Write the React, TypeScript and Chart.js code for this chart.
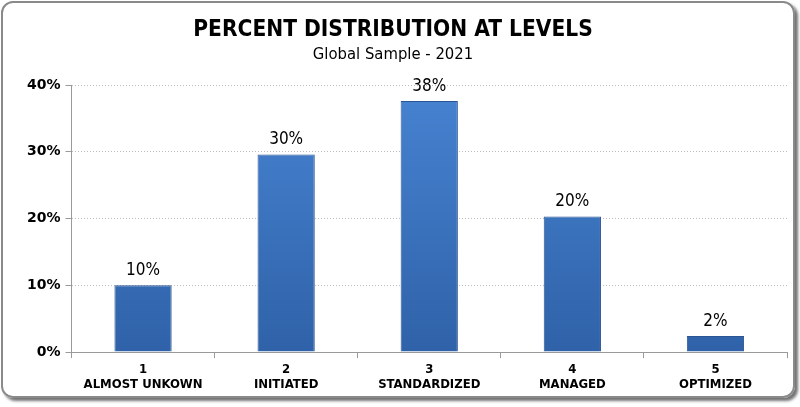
import React, { useEffect, useRef } from "react";
import { Chart, registerables } from "chart.js";

Chart.register(...registerables);

const titleText = "PERCENT DISTRIBUTION AT LEVELS";
const subtitleText = "Global Sample - 2021";
const levelNumbers = ["1", "2", "3", "4", "5"];
const levelNames = ["ALMOST UNKOWN", "INITIATED", "STANDARDIZED", "MANAGED", "OPTIMIZED"];
const percentValues = [10.0, 29.6, 37.6, 20.3, 2.4];
const percentLabels = ["10%", "30%", "38%", "20%", "2%"];
const yTicks = [0, 10, 20, 30, 40];

const narrow = "'Liberation Sans Narrow', 'DejaVu Sans Condensed', 'Arial Narrow', sans-serif";
const verdanaLike = "'DejaVu Sans', Verdana, sans-serif";

const valueLabelPlugin = {
  id: "valueLabels",
  afterDatasetsDraw(chart: any) {
    const ctx = chart.ctx;
    const meta = chart.getDatasetMeta(0);
    ctx.save();
    ctx.font = `17px ${narrow}`;
    ctx.fillStyle = "#000";
    ctx.textAlign = "center";
    ctx.textBaseline = "bottom";
    meta.data.forEach((bar: any, i: number) => {
      ctx.fillText(percentLabels[i], bar.x, bar.y - 6);
    });
    ctx.restore();
  },
};

const headerPlugin = {
  id: "header",
  afterDraw(chart: any) {
    const ctx = chart.ctx;
    ctx.save();
    ctx.fillStyle = "#000";
    ctx.textAlign = "center";
    ctx.textBaseline = "middle";
    ctx.font = `bold 22.5px ${narrow}`;
    ctx.fillText(titleText, 393, 30);
    ctx.font = `16.5px ${narrow}`;
    ctx.fillText(subtitleText, 393, 55);
    ctx.restore();
  },
};

export default function App() {
  const ref = useRef<HTMLCanvasElement>(null);
  useEffect(() => {
    document.body.style.margin = "0";
    const canvas = ref.current!;
    const chart = new Chart(canvas, {
      type: "bar",
      data: {
        labels: levelNumbers.map((n, i) => [n, levelNames[i]]),
        datasets: [
          {
            data: percentValues,
            backgroundColor: (c: any) => {
              const area = c.chart.chartArea;
              if (!area) return "#3a72c0";
              const g = c.chart.ctx.createLinearGradient(0, area.top, 0, area.bottom);
              g.addColorStop(0, "#4783d2");
              g.addColorStop(1, "#2f62a8");
              return g;
            },
            borderColor: "#2a5492",
            borderWidth: 1,
            barPercentage: 0.4,
            categoryPercentage: 1,
          },
        ],
      },
      options: {
        responsive: false,
        animation: false,
        devicePixelRatio: 1,
        layout: { padding: { top: 85, left: 22, right: 13, bottom: 11 } },
        plugins: {
          legend: { display: false },
          tooltip: { enabled: false },
          title: { display: false },
          subtitle: { display: false },
        },
        scales: {
          x: {
            grid: { drawOnChartArea: false, tickLength: 6, color: "#9a9a9a", offset: true },
            border: { color: "#9a9a9a" },
            ticks: {
              color: "#000",
              font: { family: narrow, size: 13, weight: "bold", lineHeight: 1.15 },
              padding: 4,
              maxRotation: 0,
            },
          },
          y: {
            min: 0,
            max: 40,
            afterBuildTicks: (s: any) => {
              s.ticks = yTicks.map((v) => ({ value: v }));
            },
            grid: { color: "#bdbdbd", tickLength: 6, tickColor: "#9a9a9a" },
            border: { color: "#9a9a9a", dash: [1, 2] },
            ticks: {
              color: "#000",
              font: { family: verdanaLike, size: 14, weight: "bold" },
              padding: 5,
              callback: (v: any) => v + "%",
            },
          },
        },
      },
      plugins: [valueLabelPlugin, headerPlugin],
    } as any);
    return () => chart.destroy();
  }, []);
  return (
    <div style={{ position: "fixed", left: 0, top: 0, width: 800, height: 407, background: "#fff" }}>
      <div
        style={{
          position: "absolute",
          left: 1,
          top: 1,
          width: 790,
          height: 393,
          border: "2px solid #8a8a8a",
          borderRadius: 12,
          boxShadow: "3px 3px 3px rgba(0,0,0,0.55)",
        }}
      />
      <canvas ref={ref} width={800} height={407} style={{ position: "absolute", left: 0, top: 0 }} />
    </div>
  );
}
